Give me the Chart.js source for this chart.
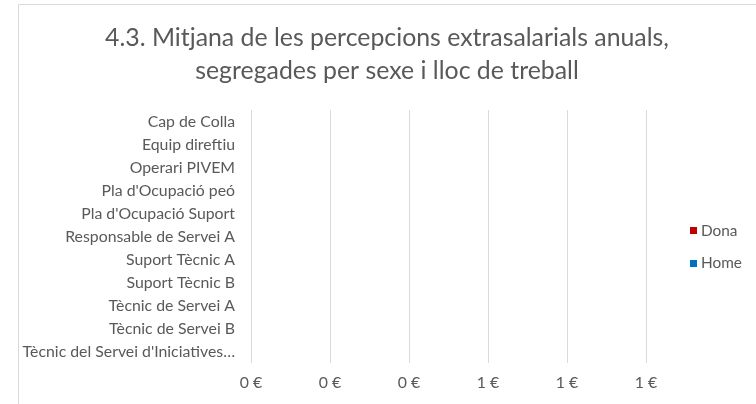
<!DOCTYPE html>
<html><head><meta charset="utf-8">
<script src="https://cdn.jsdelivr.net/npm/chart.js@4.4.1/dist/chart.umd.min.js"></script>
<style>html,body{margin:0;padding:0;background:#fff}canvas{display:block}</style>
</head><body>
<canvas id="c" width="756" height="404"></canvas>
<script>
const titleLines = ["4.3. Mitjana de les percepcions extrasalarials anuals,", "segregades per sexe i lloc de treball"];
const categories = ["Cap de Colla", "Equip direftiu", "Operari PIVEM", "Pla d'Ocupació peó", "Pla d'Ocupació Suport", "Responsable de Servei A", "Suport Tècnic A", "Suport Tècnic B", "Tècnic de Servei A", "Tècnic de Servei B", "Tècnic del Servei d'Iniciatives…"];
const seriesNames = ["Dona", "Home"];
const seriesColors = ["#C00000", "#0070C0"];
const donaValues = [0, 0, 0, 0, 0, 0, 0, 0, 0, 0, 0];
const homeValues = [0, 0, 0, 0, 0, 0, 0, 0, 0, 0, 0];
const tickLabels = ["0 €", "0 €", "0 €", "1 €", "1 €", "1 €"];

const FONT = "Lato, 'Open Sans', sans-serif";
const TEXT = "#595959";
const GRID = "#D9D9D9";

// size fonts so text widths match the reference (Calibri-like) widths
const mctx = document.createElement('canvas').getContext('2d');
function fitSize(text, targetWidth) {
  mctx.font = '100px ' + FONT;
  return 100 * targetWidth / mctx.measureText(text).width;
}
const titleSize = fitSize(titleLines[0], 564);
const labelSize = fitSize(categories[5], 170);
const legendSize = fitSize(seriesNames[0], 36.5);

const decorPlugin = {
  id: 'decor',
  beforeDraw(chart) {
    const ctx = chart.ctx;
    ctx.save();
    ctx.strokeStyle = GRID;
    ctx.lineWidth = 1;
    ctx.beginPath();
    ctx.moveTo(18.5, 404);
    ctx.lineTo(18.5, 4.5);
    ctx.lineTo(756, 4.5);
    ctx.stroke();
    ctx.restore();
  },
  afterDraw(chart) {
    const ctx = chart.ctx;
    ctx.save();
    ctx.fillStyle = TEXT;
    ctx.font = titleSize.toFixed(2) + "px " + FONT;
    ctx.textAlign = "center";
    ctx.textBaseline = "alphabetic";
    titleLines.forEach((t, i) => ctx.fillText(t, 387, 46 + i * 33));
    ctx.font = legendSize.toFixed(2) + "px " + FONT;
    ctx.textAlign = "left";
    chart.data.datasets.forEach((ds, i) => {
      const y = 227 + i * 32.5;
      ctx.fillStyle = ds.backgroundColor;
      ctx.fillRect(690, Math.round(y), 7, 7);
      ctx.fillStyle = TEXT;
      ctx.fillText(ds.label, 701, y + 8.7);
    });
    ctx.restore();
  }
};

new Chart(document.getElementById('c'), {
  type: 'bar',
  data: {
    labels: categories,
    datasets: [
      { label: seriesNames[0], data: donaValues, backgroundColor: seriesColors[0] },
      { label: seriesNames[1], data: homeValues, backgroundColor: seriesColors[1] }
    ]
  },
  options: {
    indexAxis: 'y',
    responsive: false,
    animation: false,
    layout: { padding: { top: 110, right: 110, left: 0, bottom: 0 } },
    plugins: { legend: { display: false }, title: { display: false }, tooltip: { enabled: false } },
    scales: {
      x: {
        min: 0, max: 1,
        ticks: { stepSize: 0.2, color: TEXT, font: { family: FONT, size: labelSize }, padding: 10,
          callback: (v, i) => tickLabels[i] },
        grid: { color: GRID, drawTicks: false },
        border: { display: false },
        afterFit: s => { s.height = 41; }
      },
      y: {
        ticks: { color: TEXT, font: { family: FONT, size: labelSize }, padding: 16, autoSkip: false },
        grid: { display: false, drawTicks: false },
        border: { display: false },
        afterFit: s => { s.width = 251; }
      }
    }
  },
  plugins: [decorPlugin]
});
</script>
</body></html>
